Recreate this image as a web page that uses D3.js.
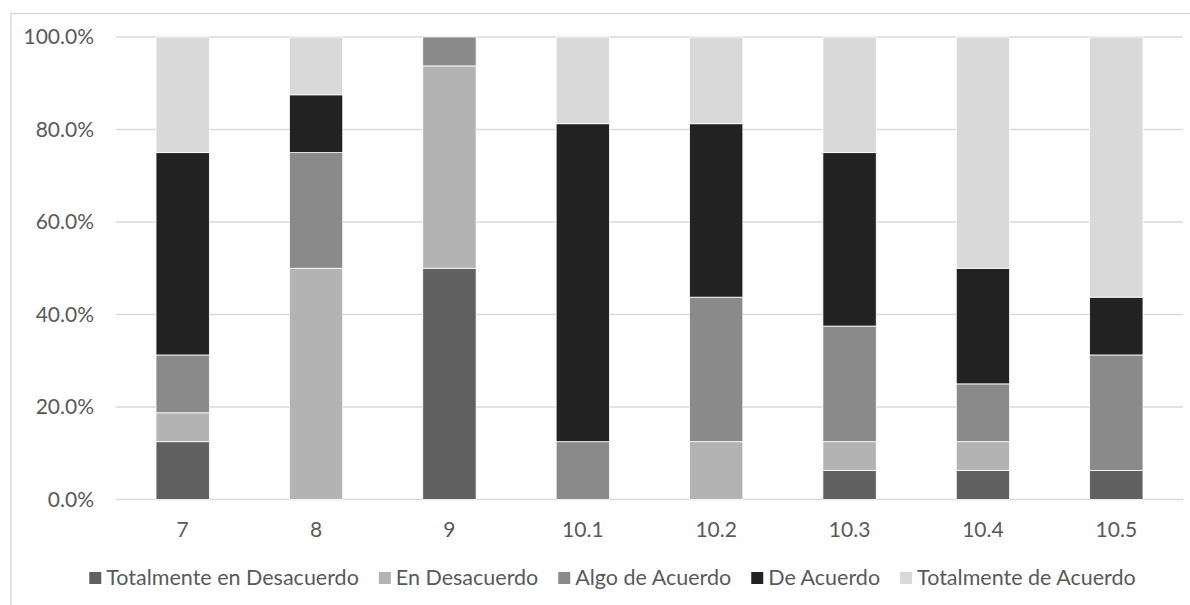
<!DOCTYPE html>
<html>
<head>
<meta charset="utf-8">
<script src="https://cdn.jsdelivr.net/npm/d3@7"></script>
<style>
  html, body { margin: 0; padding: 0; background: #fff; }
  svg { display: block; }
  text { font-family: Lato, "Open Sans", sans-serif; fill: #595959; }
</style>
</head>
<body>
<svg id="chart" width="1190" height="605"></svg>
<script>
// Question items on the x axis
const categories = ["7", "8", "9", "10.1", "10.2", "10.3", "10.4", "10.5"];

// Response levels (stack order, bottom to top)
const seriesNames = [
  "Totalmente en Desacuerdo",
  "En Desacuerdo",
  "Algo de Acuerdo",
  "De Acuerdo",
  "Totalmente de Acuerdo"
];

// Share of responses per item (%)
const totalDesacuerdo = [12.5, 0, 50, 0, 0, 6.25, 6.25, 6.25];
const enDesacuerdo    = [6.25, 50, 43.75, 0, 12.5, 6.25, 6.25, 0];
const algoAcuerdo     = [12.5, 25, 6.25, 12.5, 31.25, 25, 12.5, 25];
const deAcuerdo       = [43.75, 12.5, 0, 68.75, 37.5, 37.5, 25, 12.5];
const totalAcuerdo    = [25, 12.5, 0, 18.75, 18.75, 25, 50, 56.25];

const yTicks = [0, 20, 40, 60, 80, 100];

const colors = ["#606060", "#b3b3b3", "#8a8a8a", "#222222", "#d9d9d9"];

const seriesValues = [totalDesacuerdo, enDesacuerdo, algoAcuerdo, deAcuerdo, totalAcuerdo];
const rows = categories.map((c, i) => {
  const r = { cat: c };
  seriesNames.forEach((s, k) => { r[s] = seriesValues[k][i]; });
  return r;
});

const svg = d3.select("#chart");
const W = 1190, H = 605;
const plot = { left: 116, right: 1183, top: 37, bottom: 499.5 };
const fontFamily = "Lato, 'Open Sans', sans-serif";
const labelSize = "21px";

// Chart frame
svg.append("rect")
  .attr("x", 11).attr("y", 13.5)
  .attr("width", W + 10).attr("height", H + 10)
  .attr("fill", "none").attr("stroke", "#d9d9d9").attr("stroke-width", 1.5);

const x = d3.scaleBand().domain(categories).range([plot.left, plot.right]).paddingInner(0.6).paddingOuter(0.3);
const y = d3.scaleLinear().domain([0, 100]).range([plot.bottom, plot.top]);

// Gridlines
svg.append("g")
  .selectAll("line")
  .data(yTicks)
  .join("line")
  .attr("x1", plot.left).attr("x2", plot.right)
  .attr("y1", d => y(d)).attr("y2", d => y(d))
  .attr("stroke", "#d9d9d9").attr("stroke-width", 1.3);

// Stacked bars
const stack = d3.stack().keys(seriesNames)(rows);
svg.append("g")
  .selectAll("g")
  .data(stack)
  .join("g")
  .attr("fill", (d, i) => colors[i])
  .selectAll("rect")
  .data(d => d.filter(p => p[1] - p[0] > 0))
  .join("rect")
  .attr("x", d => x(d.data.cat))
  .attr("width", x.bandwidth())
  .attr("y", d => y(d[1]))
  .attr("height", d => y(d[0]) - y(d[1]))
  .attr("stroke", "#ffffff").attr("stroke-width", 0.8);

// Y axis labels
const yAxis = d3.axisLeft(y).tickValues(yTicks).tickSize(0).tickPadding(0)
  .tickFormat(d => d3.format(".1f")(d) + "%");
const gy = svg.append("g").attr("transform", `translate(94,0)`).call(yAxis);
gy.select(".domain").remove();
gy.selectAll("text").style("font-size", labelSize).attr("fill", "#595959")
  .style("font-family", fontFamily);

// X axis labels
const xAxis = d3.axisBottom(x).tickSize(0).tickPadding(0);
const gx = svg.append("g").attr("transform", `translate(0,522)`).call(xAxis);
gx.select(".domain").remove();
gx.selectAll("text").style("font-size", labelSize).attr("fill", "#595959")
  .style("font-family", fontFamily);

// Legend
const legend = svg.append("g");
const items = legend.selectAll("g").data(seriesNames).join("g");
items.append("rect").attr("width", 12).attr("height", 12).attr("y", -13)
  .attr("fill", (d, i) => colors[i]);
items.append("text").attr("x", 17).attr("y", 0)
  .style("font-size", "21.5px").text(d => d);
let cx = 0;
const gap = 20;
items.each(function () {
  const w = this.getBBox().width;
  d3.select(this).attr("transform", `translate(${cx},585)`);
  cx += w + gap;
});
const total = cx - gap;
legend.attr("transform", `translate(${612.5 - total / 2},0)`);
</script>
</body>
</html>
